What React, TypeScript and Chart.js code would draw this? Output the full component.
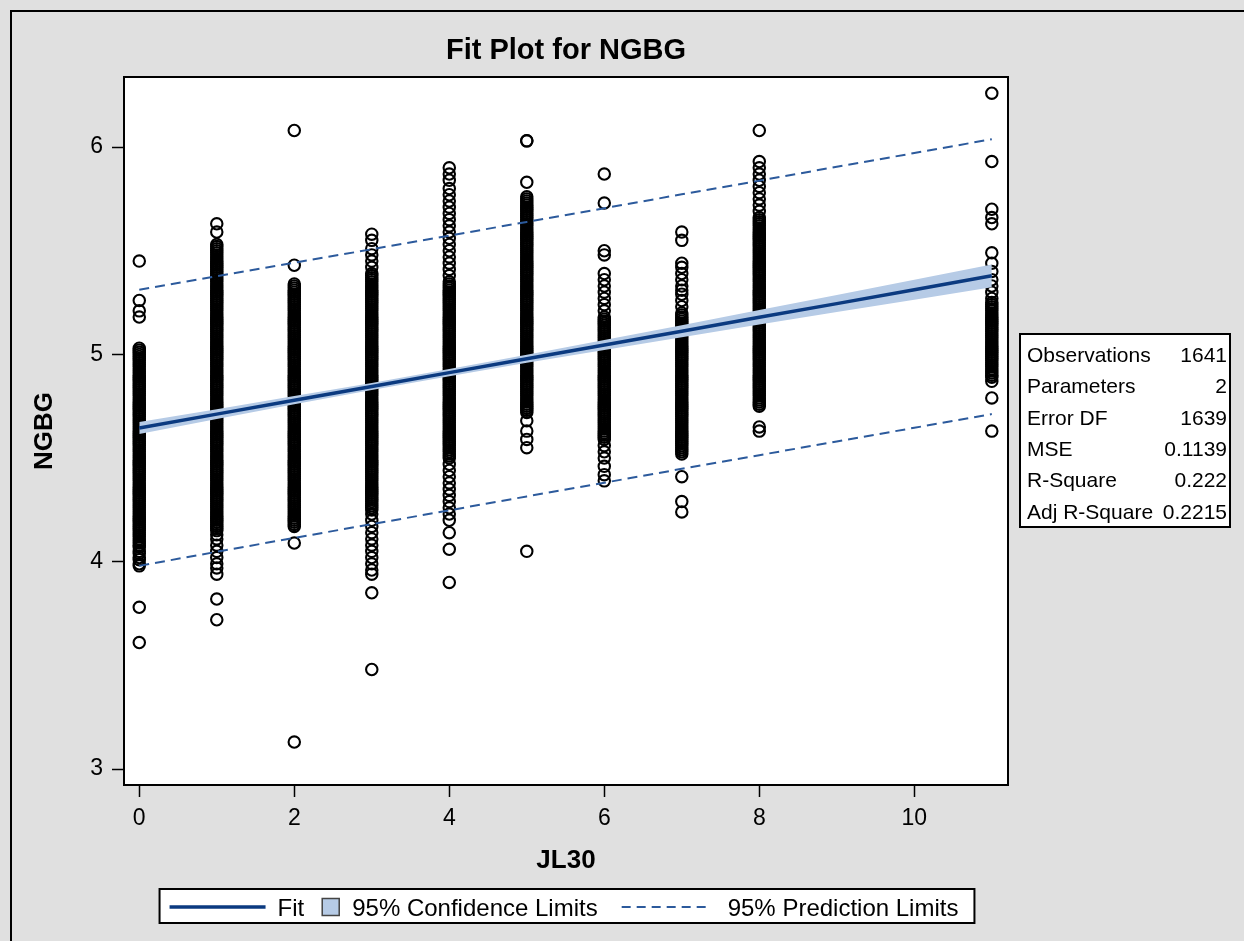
import React, { useEffect, useRef } from "react";
import { Chart, registerables } from "chart.js";

Chart.register(...registerables);

const FONT = "'Liberation Sans', Arial, Helvetica, sans-serif";

const CHART_TITLE = "Fit Plot for NGBG";
const X_LABEL = "JL30";
const Y_LABEL = "NGBG";
const X_TICKS = [0, 2, 4, 6, 8, 10];
const Y_TICKS = [3, 4, 5, 6];

// JL30 levels that hold observations
const JL30_LEVELS = [0, 1, 2, 3, 4, 5, 6, 7, 8, 11];

// NGBG observations, in hundredths, one list per JL30 level
const NGBG_0 = [361, 378, 398, 399, 401, 402, 404, 405, 407, 408, 409, 410, 411, 412, 413, 414, 415, 416, 417, 418, 419, 420, 421, 422, 423, 424, 425, 426, 427, 428, 429, 430, 431, 432, 433, 434, 435, 436, 437, 438, 439, 440, 441, 442, 443, 444, 445, 446, 447, 448, 449, 450, 451, 452, 453, 454, 455, 456, 457, 458, 459, 460, 461, 462, 463, 464, 465, 466, 467, 468, 469, 470, 471, 472, 473, 474, 475, 476, 477, 478, 479, 480, 481, 482, 483, 484, 485, 486, 487, 488, 489, 490, 491, 492, 493, 494, 495, 496, 497, 498, 499, 500, 501, 502, 503, 518, 521, 526, 545];
const NGBG_1 = [372, 382, 394, 397, 399, 402, 405, 408, 411, 413, 415, 416, 417, 418, 419, 420, 421, 422, 423, 424, 425, 426, 427, 428, 429, 430, 431, 432, 433, 434, 435, 436, 437, 438, 439, 440, 441, 442, 443, 444, 445, 446, 447, 448, 449, 450, 451, 452, 453, 454, 455, 456, 457, 458, 459, 460, 461, 462, 463, 464, 465, 466, 467, 468, 469, 470, 471, 472, 473, 474, 475, 476, 477, 478, 479, 480, 481, 482, 483, 484, 485, 486, 487, 488, 489, 490, 491, 492, 493, 494, 495, 496, 497, 498, 499, 500, 501, 502, 503, 504, 505, 506, 507, 508, 509, 510, 511, 512, 513, 514, 515, 516, 517, 518, 519, 520, 521, 522, 523, 524, 525, 526, 527, 528, 529, 530, 531, 532, 533, 534, 535, 536, 537, 538, 539, 540, 541, 542, 543, 544, 545, 546, 547, 548, 549, 550, 551, 552, 553, 559, 563];
const NGBG_2 = [313, 409, 417, 418, 419, 420, 421, 422, 423, 424, 425, 426, 427, 428, 429, 430, 431, 432, 433, 434, 435, 436, 437, 438, 439, 440, 441, 442, 443, 444, 445, 446, 447, 448, 449, 450, 451, 452, 453, 454, 455, 456, 457, 458, 459, 460, 461, 462, 463, 464, 465, 466, 467, 468, 469, 470, 471, 472, 473, 474, 475, 476, 477, 478, 479, 480, 481, 482, 483, 484, 485, 486, 487, 488, 489, 490, 491, 492, 493, 494, 495, 496, 497, 498, 499, 500, 501, 502, 503, 504, 505, 506, 507, 508, 509, 510, 511, 512, 513, 514, 515, 516, 517, 518, 519, 520, 521, 522, 523, 524, 525, 526, 527, 528, 529, 530, 531, 532, 533, 534, 543, 608];
const NGBG_3 = [348, 385, 394, 396, 399, 402, 405, 408, 411, 414, 417, 420, 423, 425, 426, 427, 428, 429, 430, 431, 432, 433, 434, 435, 436, 437, 438, 439, 440, 441, 442, 443, 444, 445, 446, 447, 448, 449, 450, 451, 452, 453, 454, 455, 456, 457, 458, 459, 460, 461, 462, 463, 464, 465, 466, 467, 468, 469, 470, 471, 472, 473, 474, 475, 476, 477, 478, 479, 480, 481, 482, 483, 484, 485, 486, 487, 488, 489, 490, 491, 492, 493, 494, 495, 496, 497, 498, 499, 500, 501, 502, 503, 504, 505, 506, 507, 508, 509, 510, 511, 512, 513, 514, 515, 516, 517, 518, 519, 520, 521, 522, 523, 524, 525, 526, 527, 528, 529, 530, 531, 532, 533, 534, 535, 536, 537, 538, 539, 542, 545, 548, 551, 555, 558];
const NGBG_4 = [390, 406, 414, 420, 423, 426, 429, 432, 435, 438, 441, 444, 447, 450, 451, 452, 453, 454, 455, 456, 457, 458, 459, 460, 461, 462, 463, 464, 465, 466, 467, 468, 469, 470, 471, 472, 473, 474, 475, 476, 477, 478, 479, 480, 481, 482, 483, 484, 485, 486, 487, 488, 489, 490, 491, 492, 493, 494, 495, 496, 497, 498, 499, 500, 501, 502, 503, 504, 505, 506, 507, 508, 509, 510, 511, 512, 513, 514, 515, 516, 517, 518, 519, 520, 521, 522, 523, 524, 525, 526, 527, 528, 529, 530, 531, 532, 533, 534, 535, 538, 541, 544, 547, 550, 553, 556, 559, 562, 565, 568, 571, 574, 577, 580, 584, 587, 590];
const NGBG_5 = [405, 455, 459, 463, 468, 472, 473, 474, 475, 476, 477, 478, 479, 480, 481, 482, 483, 484, 485, 486, 487, 488, 489, 490, 491, 492, 493, 494, 495, 496, 497, 498, 499, 500, 501, 502, 503, 504, 505, 506, 507, 508, 509, 510, 511, 512, 513, 514, 515, 516, 517, 518, 519, 520, 521, 522, 523, 524, 525, 526, 527, 528, 529, 530, 531, 532, 533, 534, 535, 536, 537, 538, 539, 540, 541, 542, 543, 544, 545, 546, 547, 548, 549, 550, 551, 552, 553, 554, 555, 556, 557, 558, 559, 560, 561, 562, 563, 564, 565, 566, 567, 568, 569, 570, 571, 572, 573, 574, 575, 576, 583, 603, 603];
const NGBG_6 = [439, 442, 446, 450, 453, 456, 459, 460, 461, 462, 463, 464, 465, 466, 467, 468, 469, 470, 471, 472, 473, 474, 475, 476, 477, 478, 479, 480, 481, 482, 483, 484, 485, 486, 487, 488, 489, 490, 491, 492, 493, 494, 495, 496, 497, 498, 499, 500, 501, 502, 503, 504, 505, 506, 507, 508, 509, 510, 511, 512, 513, 514, 515, 516, 517, 518, 521, 524, 527, 530, 533, 536, 539, 548, 550, 573, 587];
const NGBG_7 = [424, 429, 441, 452, 453, 454, 455, 456, 457, 458, 459, 460, 461, 462, 463, 464, 465, 466, 467, 468, 469, 470, 471, 472, 473, 474, 475, 476, 477, 478, 479, 480, 481, 482, 483, 484, 485, 486, 487, 488, 489, 490, 491, 492, 493, 494, 495, 496, 497, 498, 499, 500, 501, 502, 503, 504, 505, 506, 507, 508, 509, 510, 511, 512, 513, 514, 515, 516, 517, 518, 519, 520, 523, 526, 529, 531, 533, 536, 539, 542, 544, 555, 559];
const NGBG_8 = [463, 465, 475, 476, 477, 478, 479, 480, 481, 482, 483, 484, 485, 486, 487, 488, 489, 490, 491, 492, 493, 494, 495, 496, 497, 498, 499, 500, 501, 502, 503, 504, 505, 506, 507, 508, 509, 510, 511, 512, 513, 514, 515, 516, 517, 518, 519, 520, 521, 522, 523, 524, 525, 526, 527, 528, 529, 530, 531, 532, 533, 534, 535, 536, 537, 538, 539, 540, 541, 542, 543, 544, 545, 546, 547, 548, 549, 550, 551, 552, 553, 554, 555, 556, 557, 558, 559, 560, 561, 562, 563, 564, 565, 566, 569, 572, 575, 578, 581, 584, 587, 590, 593, 608];
const NGBG_11 = [463, 479, 487, 489, 490, 491, 492, 493, 494, 495, 496, 497, 498, 499, 500, 501, 502, 503, 504, 505, 506, 507, 508, 509, 510, 511, 512, 513, 514, 515, 516, 517, 518, 519, 520, 521, 522, 523, 524, 525, 527, 530, 533, 536, 540, 544, 549, 563, 566, 570, 593, 626];
const NGBG_BY_LEVEL = [NGBG_0, NGBG_1, NGBG_2, NGBG_3, NGBG_4, NGBG_5, NGBG_6, NGBG_7, NGBG_8, NGBG_11];

// Fit line, 95% confidence and prediction limits
const FIT_X = [0, 1, 2, 3, 4, 5, 6, 7, 8, 9, 10, 11];
const FIT_Y = [4.645, 4.712, 4.779, 4.845, 4.912, 4.979, 5.045, 5.112, 5.179, 5.245, 5.312, 5.379];
const CLM_UPPER = [4.674, 4.736, 4.799, 4.862, 4.929, 4.998, 5.069, 5.141, 5.214, 5.286, 5.360, 5.434];
const CLM_LOWER = [4.616, 4.688, 4.759, 4.828, 4.895, 4.960, 5.021, 5.083, 5.144, 5.204, 5.264, 5.324];
const PLM_UPPER = [5.312, 5.377, 5.442, 5.507, 5.573, 5.639, 5.705, 5.772, 5.838, 5.905, 5.971, 6.038];
const PLM_LOWER = [3.980, 4.048, 4.115, 4.181, 4.248, 4.315, 4.381, 4.448, 4.514, 4.580, 4.646, 4.712];

const LEGEND_LABELS = ["Fit", "95% Confidence Limits", "95% Prediction Limits"];
const STAT_LABELS = ["Observations", "Parameters", "Error DF", "MSE", "R-Square", "Adj R-Square"];
const STAT_VALUES = ["1641", "2", "1639", "0.1139", "0.222", "0.2215"];

const FIT_COLOR = "#0b3a80";
const BAND_COLOR = "#b6cbe6";
const PRED_COLOR = "#2c5a9c";
const BG_COLOR = "#e0e0e0";

const sasPlugin = {
  id: "sasDecor",
  beforeDraw(chart: any) {
    const { ctx, width, height, chartArea: a } = chart;
    ctx.save();
    ctx.fillStyle = BG_COLOR;
    ctx.fillRect(0, 0, width, height);
    ctx.strokeStyle = "#000";
    ctx.lineWidth = 2;
    ctx.strokeRect(11, 11, width + 40, height + 40);
    ctx.fillStyle = "#fff";
    ctx.fillRect(a.left, a.top, a.right - a.left, a.bottom - a.top);
    ctx.restore();
  },
  afterDraw(chart: any) {
    const { ctx, chartArea: a } = chart;
    ctx.save();
    // plot frame
    ctx.strokeStyle = "#000";
    ctx.lineWidth = 2;
    ctx.strokeRect(a.left, a.top, a.right - a.left, a.bottom - a.top);

    // title
    const cx = (a.left + a.right) / 2;
    ctx.fillStyle = "#000";
    ctx.font = `bold 29px ${FONT}`;
    ctx.textAlign = "center";
    ctx.textBaseline = "alphabetic";
    ctx.fillText(CHART_TITLE, cx, 59);

    // statistics inset
    const bx = 1020, by = 334, bw = 210, bh = 193;
    ctx.fillStyle = "#fff";
    ctx.fillRect(bx, by, bw, bh);
    ctx.strokeStyle = "#000";
    ctx.lineWidth = 2;
    ctx.strokeRect(bx, by, bw, bh);
    ctx.fillStyle = "#000";
    ctx.font = `21px ${FONT}`;
    STAT_LABELS.forEach((lab, i) => {
      const y = 362 + i * 31.3;
      ctx.textAlign = "left";
      ctx.fillText(lab, bx + 7, y);
      ctx.textAlign = "right";
      ctx.fillText(STAT_VALUES[i], bx + bw - 3, y);
    });

    // legend
    ctx.font = `24px ${FONT}`;
    const wFit = ctx.measureText(LEGEND_LABELS[0]).width;
    const wCi = ctx.measureText(LEGEND_LABELS[1]).width;
    const wPi = ctx.measureText(LEGEND_LABELS[2]).width;
    const total = 10 + 96 + 12 + wFit + 18 + 17 + 13 + wCi + 24 + 85 + 21 + wPi + 16;
    const lx = cx + 1 - total / 2;
    const ly = 889, lh = 34, my = 907, base = 916;
    ctx.fillStyle = "#fff";
    ctx.fillRect(lx, ly, total, lh);
    ctx.strokeStyle = "#000";
    ctx.lineWidth = 2;
    ctx.strokeRect(lx, ly, total, lh);
    let x = lx + 10;
    ctx.strokeStyle = FIT_COLOR;
    ctx.lineWidth = 3.5;
    ctx.beginPath();
    ctx.moveTo(x, my);
    ctx.lineTo(x + 96, my);
    ctx.stroke();
    x += 96 + 12;
    ctx.fillStyle = "#000";
    ctx.textAlign = "left";
    ctx.fillText(LEGEND_LABELS[0], x, base);
    x += wFit + 18;
    ctx.fillStyle = BAND_COLOR;
    ctx.fillRect(x, my - 8.5, 17, 17);
    ctx.strokeStyle = "#444";
    ctx.lineWidth = 1.5;
    ctx.strokeRect(x, my - 8.5, 17, 17);
    x += 17 + 13;
    ctx.fillStyle = "#000";
    ctx.fillText(LEGEND_LABELS[1], x, base);
    x += wCi + 24;
    ctx.strokeStyle = PRED_COLOR;
    ctx.lineWidth = 2;
    ctx.setLineDash([9, 6]);
    ctx.beginPath();
    ctx.moveTo(x, my);
    ctx.lineTo(x + 85, my);
    ctx.stroke();
    ctx.setLineDash([]);
    x += 85 + 21;
    ctx.fillStyle = "#000";
    ctx.fillText(LEGEND_LABELS[2], x, base);
    ctx.restore();
  },
};

export default function App() {
  const ref = useRef<HTMLCanvasElement | null>(null);

  useEffect(() => {
    if (!ref.current) return;
    const pts = (ys: number[]) => FIT_X.map((x, i) => ({ x, y: ys[i] }));
    const scatter: { x: number; y: number }[] = [];
    JL30_LEVELS.forEach((lev, i) => {
      NGBG_BY_LEVEL[i].forEach((v) => scatter.push({ x: lev, y: v / 100 }));
    });

    const chart = new Chart(ref.current, {
      type: "scatter",
      data: {
        datasets: [
          {
            type: "line",
            label: LEGEND_LABELS[0],
            data: pts(FIT_Y),
            borderColor: FIT_COLOR,
            borderWidth: 3.5,
            pointRadius: 0,
            fill: false,
            tension: 0,
          } as any,
          {
            type: "line",
            label: LEGEND_LABELS[1],
            data: pts(CLM_UPPER),
            borderColor: "rgba(0,0,0,0)",
            backgroundColor: BAND_COLOR,
            pointRadius: 0,
            fill: "+1",
            tension: 0,
          },
          {
            type: "line",
            label: "CLM lower",
            data: pts(CLM_LOWER),
            borderColor: "rgba(0,0,0,0)",
            pointRadius: 0,
            fill: false,
            tension: 0,
          },
          {
            type: "line",
            label: LEGEND_LABELS[2],
            data: pts(PLM_UPPER),
            borderColor: PRED_COLOR,
            borderWidth: 2,
            borderDash: [10, 6],
            pointRadius: 0,
            fill: false,
            tension: 0,
          },
          {
            type: "line",
            label: "PLM lower",
            data: pts(PLM_LOWER),
            borderColor: PRED_COLOR,
            borderWidth: 2,
            borderDash: [10, 6],
            pointRadius: 0,
            fill: false,
            tension: 0,
          },
          {
            type: "scatter",
            label: "NGBG",
            data: scatter,
            pointRadius: 5.7,
            pointBorderWidth: 2.1,
            borderColor: "#000",
            backgroundColor: "rgba(0,0,0,0)",
            pointBackgroundColor: "rgba(0,0,0,0)",
            pointBorderColor: "#000",
            showLine: false,
          },
        ] as any,
      },
      options: {
        responsive: false,
        animation: false,
        events: [],
        devicePixelRatio: 1,
        layout: { autoPadding: false, padding: { left: 0, top: 77, right: 236, bottom: 0 } },
        plugins: {
          legend: { display: false },
          tooltip: { enabled: false },
          title: { display: false },
        },
        scales: {
          x: {
            type: "linear",
            min: -0.197,
            max: 11.209,
            border: { display: false },
            grid: {
              drawOnChartArea: false,
              drawTicks: true,
              tickLength: 12,
              tickColor: "#000",
              tickWidth: 1.5,
            },
            ticks: {
              color: "#000",
              font: { family: FONT, size: 23 },
              padding: 8,
              maxRotation: 0,
              includeBounds: false,
            },
            afterBuildTicks: (s: any) => {
              s.ticks = X_TICKS.map((v) => ({ value: v }));
            },
            afterFit: (s: any) => {
              s.height = 156;
            },
            title: {
              display: true,
              text: X_LABEL,
              color: "#000",
              font: { family: FONT, size: 26, weight: "bold" },
              padding: { top: 0, bottom: 65 },
            },
          },
          y: {
            type: "linear",
            min: 2.923,
            max: 6.338,
            border: { display: false },
            grid: {
              drawOnChartArea: false,
              drawTicks: true,
              tickLength: 12,
              tickColor: "#000",
              tickWidth: 1.5,
            },
            ticks: {
              color: "#000",
              font: { family: FONT, size: 23 },
              padding: 9,
              includeBounds: false,
            },
            afterBuildTicks: (s: any) => {
              s.ticks = Y_TICKS.map((v) => ({ value: v }));
            },
            afterFit: (s: any) => {
              s.width = 124;
            },
            title: {
              display: true,
              text: Y_LABEL,
              color: "#000",
              font: { family: FONT, size: 26, weight: "bold" },
              padding: { top: 29, bottom: 0 },
            },
          },
        },
      } as any,
      plugins: [sasPlugin],
    });
    return () => chart.destroy();
  }, []);

  return (
    <div style={{ position: "fixed", left: 0, top: 0, width: 1244, height: 941 }}>
      <canvas ref={ref} width={1244} height={941} style={{ display: "block", width: 1244, height: 941 }} />
    </div>
  );
}
